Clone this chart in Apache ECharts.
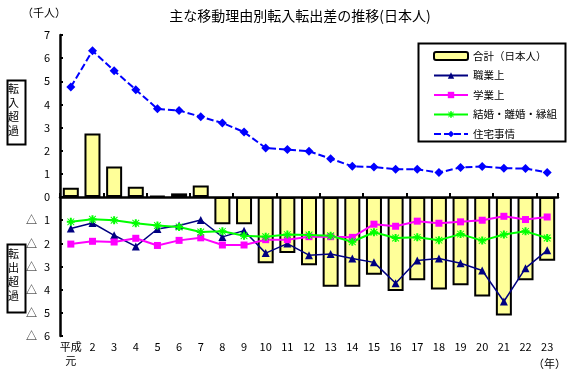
<!DOCTYPE html>
<html><head><meta charset="utf-8">
<script src="https://cdn.jsdelivr.net/npm/echarts@6/dist/echarts.min.js"></script>
<style>html,body{margin:0;padding:0;background:#fff}#c{width:567px;height:379px}</style>
</head><body><div id="c"></div>
<script>
const categories = ['平成\n元','2','3','4','5','6','7','8','9','10','11','12','13','14','15','16','17','18','19','20','21','22','23'];
const total      = [0.40, 2.75, 1.32, 0.45, 0.05, 0.16, 0.50, -1.17, -1.17, -2.86, -2.42, -2.94, -3.87, -3.87, -3.36, -4.06, -3.59, -3.99, -3.81, -4.29, -5.12, -3.59, -2.75];
const occupation = [-1.36, -1.12, -1.65, -2.13, -1.38, -1.23, -0.99, -1.72, -1.45, -2.42, -2.01, -2.51, -2.46, -2.65, -2.82, -3.72, -2.74, -2.65, -2.86, -3.17, -4.51, -3.07, -2.30];
const education  = [-2.03, -1.91, -1.94, -1.78, -2.09, -1.87, -1.76, -2.07, -2.07, -1.84, -1.84, -1.71, -1.71, -1.74, -1.17, -1.26, -1.04, -1.13, -1.07, -1.00, -0.83, -0.97, -0.86];
const marriage   = [-1.07, -0.96, -1.00, -1.13, -1.23, -1.29, -1.51, -1.48, -1.67, -1.71, -1.62, -1.64, -1.67, -1.93, -1.52, -1.77, -1.74, -1.86, -1.60, -1.88, -1.62, -1.48, -1.77];
const housing    = [4.75, 6.32, 5.46, 4.64, 3.81, 3.74, 3.47, 3.20, 2.81, 2.12, 2.05, 1.98, 1.66, 1.33, 1.30, 1.20, 1.20, 1.06, 1.28, 1.32, 1.25, 1.23, 1.06];
const seriesNames = ['合計（日本人）','職業上','学業上','結婚・離婚・縁組','住宅事情'];

const FONT = '"Noto Sans CJK JP", "Noto Sans", sans-serif';
const asterisk = 'path://M3,0h2v8h-2z M0,3h8v2h-8z M1,0.3L7.7,7L7,7.7L0.3,1z M7,0.3L7.7,1L1,7.7L0.3,7z';

const chart = echarts.init(document.getElementById('c'), null, {renderer:'canvas'});
chart.setOption({
  animation: false,
  textStyle: {fontFamily: FONT},
  title: {
    text: '主な移動理由別転入転出差の推移(日本人)',
    left: 295, top: 4, textAlign: 'center',
    textStyle: {fontSize: 14, fontWeight: 'normal', color: '#000', fontFamily: FONT}
  },
  grid: {left: 60, right: 9, top: 35, bottom: 43, containLabel: false, outerBoundsMode: 'none'},
  legend: {
    orient: 'vertical', left: 428, top: 44,
    itemWidth: 34, itemHeight: 8, itemGap: 5.5,
    textStyle: {fontSize: 10.5, color: '#000', lineHeight: 14, fontFamily: FONT},
    data: seriesNames
  },
  xAxis: [{
    type: 'category', data: categories, position: 'bottom',
    axisLine: {onZero: true, lineStyle: {color: '#000', width: 2.5}},
    axisTick: {show: true, inside: true, length: 4, lineStyle: {color: '#000', width: 2}},
    axisLabel: {show: false}, splitLine: {show: false}
  }, {
    type: 'category', data: categories, position: 'bottom',
    axisLine: {show: false, onZero: false}, axisTick: {show: false},
    axisLabel: {show: true, interval: 0, margin: 4, fontSize: 11, color: '#000', lineHeight: 14, fontFamily: FONT},
    splitLine: {show: false}
  }],
  yAxis: {
    type: 'value', min: -6, max: 7, interval: 1,
    axisLine: {show: true, onZero: false, lineStyle: {color: '#000', width: 2.5}},
    axisTick: {show: true, inside: true, length: 3, lineStyle: {color: '#000', width: 2}},
    splitLine: {show: false},
    axisLabel: {margin: 10, fontSize: 11, color: '#000', fontFamily: FONT, overflow: 'none', width: 60,
      formatter: v => v < 0 ? '{t|△}{n|' + (-v) + '}' : '{n|' + v + '}',
      rich: {t: {fontSize: 11, fontFamily: FONT, color: '#000', padding: [0, 7, 0, 0]},
             n: {fontSize: 11, fontFamily: FONT, color: '#000'}}}
  },
  series: [{
    name: seriesNames[0], type: 'bar', xAxisIndex: 0, data: total, barWidth: 16,
    itemStyle: {color: '#FFFF99', borderColor: '#000', borderWidth: 2}, z: 2
  }, {
    name: seriesNames[1], type: 'line', xAxisIndex: 0, data: occupation,
    symbol: 'triangle', symbolSize: 8, color: '#000080',
    lineStyle: {color: '#000080', width: 1.5}, itemStyle: {color: '#000080'}, z: 3
  }, {
    name: seriesNames[2], type: 'line', xAxisIndex: 0, data: education,
    symbol: 'rect', symbolSize: 7, color: '#FF00FF',
    lineStyle: {color: '#FF00FF', width: 2}, itemStyle: {color: '#FF00FF'}, z: 3
  }, {
    name: seriesNames[3], type: 'line', xAxisIndex: 0, data: marriage,
    symbol: asterisk, symbolSize: 8, color: '#00FF00',
    lineStyle: {color: '#00FF00', width: 2}, itemStyle: {color: '#00FF00'}, z: 3
  }, {
    name: seriesNames[4], type: 'line', xAxisIndex: 0, data: housing,
    symbol: 'diamond', symbolSize: 9, color: '#0000FF',
    lineStyle: {color: '#0000FF', width: 2, type: [7, 3]}, itemStyle: {color: '#0000FF'}, z: 3
  }],
  graphic: [
    {type: 'rect', left: 416, top: 41, shape: {width: 147, height: 98},
     style: {fill: 'none', stroke: '#000', lineWidth: 2}, z: 10},
    {type: 'text', left: 22, top: 7, style: {text: '（千人）', font: '11px ' + FONT, fill: '#000'}},
    {type: 'text', left: 533, top: 358, style: {text: '（年）', font: '11px ' + FONT, fill: '#000'}},
    {type: 'rect', left: 5, top: 78, shape: {width: 18, height: 64},
     style: {fill: 'none', stroke: '#000', lineWidth: 2}},
    {type: 'text', left: 8, top: 82, style: {text: '転\n入\n超\n過', font: '11px ' + FONT, fill: '#000', lineHeight: 14}},
    {type: 'rect', left: 5, top: 242, shape: {width: 18, height: 68},
     style: {fill: 'none', stroke: '#000', lineWidth: 2}},
    {type: 'text', left: 8, top: 247, style: {text: '転\n出\n超\n過', font: '11px ' + FONT, fill: '#000', lineHeight: 14}}
  ]
});
</script></body></html>
